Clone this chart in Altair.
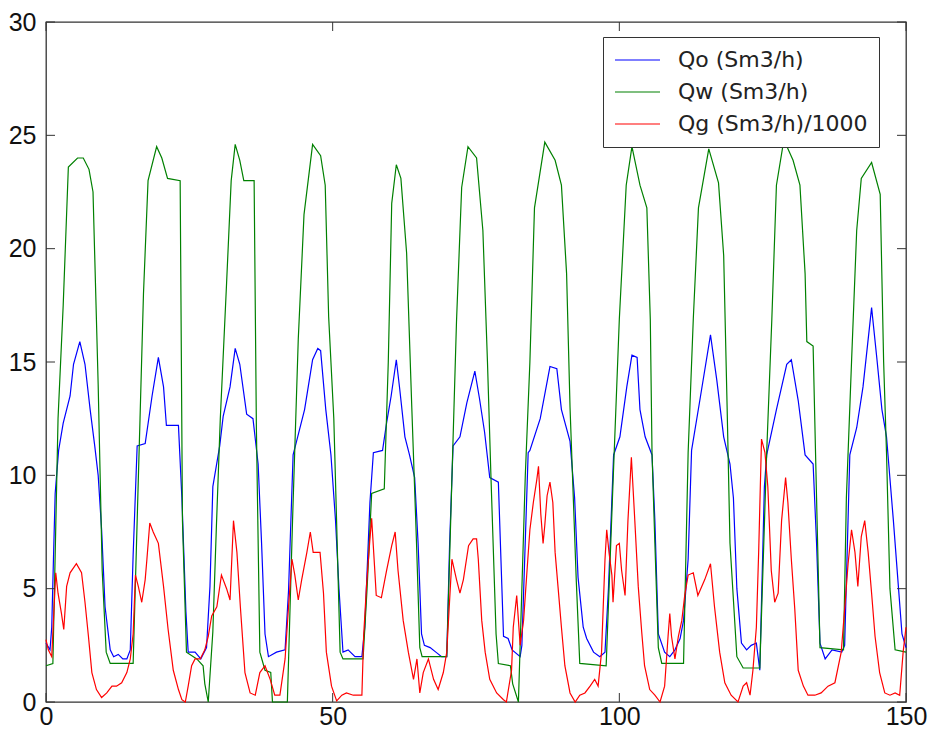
import altair as alt
import pandas as pd

# ---- data ----
labels = ["Qo (Sm3/h)", "Qw (Sm3/h)", "Qg (Sm3/h)/1000"]
colors = ["#0000ff", "#008000", "#ff0000"]
x_ticks = [0, 50, 100, 150]
y_ticks = [0, 5, 10, 15, 20, 25, 30]

qo_t = [0, 0.7, 1.0, 1.3, 1.6, 2.2, 3.0, 4.2, 4.8, 5.9, 6.8, 7.7, 8.5, 9.1, 9.7, 10.3, 11.2, 11.8, 12.6, 13.4,
        14.1, 14.7, 15.2, 15.9, 17.3, 18.5, 19.6, 20.5, 21.0, 23.1, 23.7, 24.4, 24.8, 26.0, 27.0, 28.0, 28.6, 29.1, 30.3, 30.9,
        32.1, 33.0, 33.8, 35.0, 36.1, 37.0, 37.6, 38.2, 38.8, 40.2, 41.7, 42.3, 43.1, 43.7, 45.1, 46.5, 47.4, 47.9, 48.8, 49.7,
        50.5, 51.1, 51.8, 52.7, 53.9, 55.1, 55.6, 56.5, 57.1, 58.7, 59.4, 60.2, 61.1, 61.7, 62.6, 63.4, 64.3, 64.9, 65.5, 66.0,
        67.0, 68.0, 69.0, 69.9, 70.4, 71.0, 72.2, 73.4, 74.8, 75.6, 76.5, 77.4, 78.9, 79.8, 80.6, 81.3, 82.7, 83.0, 84.1, 84.4,
        86.2, 87.9, 89.1, 89.9, 91.4, 92.2, 92.8, 93.7, 94.3, 95.5, 96.6, 97.5, 98.1, 99.0, 100.1, 101.3, 102.2, 103.1, 103.6, 104.5,
        105.7, 106.2, 106.8, 107.9, 108.8, 109.7, 110.6, 111.2, 112.0, 112.6, 114.1, 115.9, 117.0, 118.2, 119.3, 119.9, 120.5, 121.3, 122.2, 123.0,
        123.9, 124.5, 125.3, 125.7, 127.4, 129.2, 130.0, 131.2, 132.4, 133.8, 134.4, 135.0, 135.9, 137.1, 138.8, 139.3, 140.2, 141.4, 142.5, 144.0,
        144.9, 145.8, 146.6, 147.8, 148.7, 149.3, 150.0]
qo = [2.6, 2.3, 3.3, 6.3, 9.2, 11.1, 12.3, 13.5, 14.9, 15.9, 14.9, 12.9, 11.3, 10.0, 7.6, 4.2, 2.3, 2.0, 2.1, 1.9,
      1.9, 2.3, 6.5, 11.3, 11.4, 13.5, 15.2, 13.9, 12.2, 12.2, 9.0, 4.0, 2.2, 2.2, 1.9, 2.4, 5.1, 9.5, 11.3, 12.6,
      13.9, 15.6, 14.9, 12.7, 12.5, 10.5, 7.0, 3.0, 2.0, 2.2, 2.3, 4.9, 10.9, 11.5, 12.9, 15.1, 15.6, 15.5, 12.9, 10.9,
      8.0, 5.0, 2.2, 2.3, 2.0, 2.0, 3.3, 8.8, 11.0, 11.1, 12.3, 13.5, 15.1, 13.8, 11.7, 10.9, 9.9, 7.0, 3.0, 2.5,
      2.4, 2.2, 2.0, 2.0, 7.0, 11.3, 11.7, 13.2, 14.6, 13.4, 11.9, 9.9, 9.7, 2.9, 2.8, 2.3, 2.0, 2.5, 11.0, 11.1,
      12.5, 14.8, 14.7, 12.9, 11.5, 9.0, 5.5, 3.3, 2.8, 2.2, 2.0, 2.2, 5.0, 10.9, 11.7, 13.9, 15.3, 15.2, 12.9, 11.7,
      10.9, 8.0, 3.0, 2.2, 2.0, 2.3, 2.8, 3.6, 6.3, 11.1, 13.4, 16.2, 14.2, 11.7, 10.5, 9.0, 5.0, 2.6, 2.3, 2.5,
      2.6, 1.4, 9.5, 10.9, 12.9, 14.9, 15.1, 13.3, 10.9, 10.5, 7.0, 2.6, 1.9, 2.3, 2.2, 2.5, 10.9, 12.1, 13.9, 17.4,
      15.2, 12.9, 11.7, 8.0, 5.0, 3.0, 2.4]

qw_t = [0, 1.2, 2.1, 3.0, 3.9, 5.5, 6.5, 7.5, 8.2, 9.1, 9.8, 10.5, 11.2, 15.2, 16.4, 17.0, 17.8, 19.3, 20.2, 21.2,
        23.4, 23.8, 24.5, 26.3, 27.4, 27.7, 28.3, 29.1, 29.7, 30.4, 31.5, 32.3, 33.0, 33.8, 34.5, 36.3, 36.7, 37.3, 38.2, 39.2,
        39.5, 42.1, 43.0, 44.0, 45.0, 46.5, 47.9, 48.7, 49.3, 50.2, 51.3, 51.8, 55.3, 56.0, 56.8, 59.0, 59.7, 60.3, 61.1, 61.9,
        62.9, 63.8, 64.6, 65.2, 65.6, 69.9, 70.7, 71.6, 72.5, 73.6, 75.1, 76.2, 77.0, 77.6, 78.5, 78.9, 81.0, 81.4, 82.4, 83.0,
        83.6, 84.4, 85.2, 87.0, 88.8, 89.9, 90.8, 91.4, 92.5, 93.1, 97.7, 98.8, 100.0, 101.2, 102.2, 103.6, 104.8, 105.4, 105.7, 106.2,
        106.8, 107.4, 111.2, 112.0, 112.9, 113.8, 115.6, 117.3, 118.2, 118.8, 119.3, 120.5, 121.6, 124.5, 125.7, 126.6, 127.4, 128.7, 130.3, 131.5,
        132.4, 132.7, 133.8, 134.4, 135.0, 139.1, 139.6, 140.5, 141.4, 142.2, 144.0, 145.5, 146.1, 146.6, 147.2, 148.1, 150.0]
qw = [1.6, 1.7, 12.5, 17.5, 23.6, 24.0, 24.0, 23.5, 22.5, 14.0, 5.8, 2.2, 1.7, 1.7, 12.5, 18.0, 23.0, 24.5, 24.0, 23.1,
      23.0, 8.0, 2.2, 1.9, 1.6, 0.8, 0.0, 3.1, 7.6, 12.5, 18.5, 23.0, 24.6, 23.9, 23.0, 23.0, 12.0, 2.2, 1.4, 1.3,
      0.0, 0.0, 8.0, 16.0, 21.5, 24.6, 24.1, 22.8, 17.0, 12.5, 2.2, 1.9, 1.9, 5.0, 9.2, 9.4, 15.0, 22.0, 23.7, 23.1,
      19.8, 13.0, 7.2, 2.4, 2.0, 2.0, 9.0, 16.8, 22.7, 24.5, 24.0, 20.8, 15.0, 10.0, 3.0, 1.7, 1.6, 0.8, 0.0, 5.0,
      10.0, 15.0, 21.8, 24.7, 23.9, 22.8, 18.9, 13.0, 5.3, 1.7, 1.6, 9.0, 16.9, 22.8, 24.5, 22.8, 21.8, 16.9, 11.0, 7.0,
      2.4, 1.7, 1.7, 11.0, 16.9, 21.8, 24.4, 22.9, 19.7, 13.0, 7.0, 2.0, 1.5, 1.5, 11.0, 16.9, 22.8, 24.8, 23.9, 22.8,
      18.9, 15.9, 15.7, 9.0, 2.4, 2.3, 9.0, 15.0, 20.8, 23.1, 23.8, 22.4, 15.0, 11.0, 5.0, 2.3, 2.2]

qg_t = [0, 0.4, 1.0, 1.3, 1.7, 2.1, 2.7, 3.1, 3.6, 4.2, 5.3, 6.2, 6.8, 7.4, 8.0, 8.8, 9.7, 10.6, 11.5, 12.3,
        13.2, 14.1, 14.7, 15.2, 15.6, 16.1, 16.7, 17.3, 17.6, 18.1, 18.7, 19.6, 20.5, 21.3, 22.2, 23.1, 23.7, 24.3, 24.8, 25.4,
        26.0, 26.9, 27.7, 28.3, 28.9, 29.8, 30.6, 31.5, 32.1, 32.7, 33.3, 33.9, 34.7, 35.6, 36.5, 37.3, 38.2, 39.1, 39.9, 40.8,
        41.7, 42.3, 42.9, 43.4, 44.0, 44.6, 45.5, 46.1, 46.6, 47.8, 48.4, 48.9, 49.8, 50.7, 51.6, 52.4, 53.6, 55.1, 55.4, 55.9,
        56.5, 56.8, 57.3, 57.6, 58.5, 59.4, 60.3, 60.9, 61.4, 62.3, 63.2, 64.1, 64.7, 65.2, 65.8, 66.7, 67.6, 68.4, 69.3, 69.9,
        70.2, 70.8, 71.6, 72.2, 72.8, 73.7, 74.5, 75.1, 75.4, 76.0, 76.6, 77.4, 78.6, 79.8, 80.3, 81.2, 81.5, 82.1, 82.4, 82.7,
        83.3, 83.9, 84.4, 85.0, 85.6, 85.9, 86.3, 86.7, 87.0, 87.4, 87.9, 88.4, 88.8, 89.3, 89.9, 90.5, 91.4, 92.3, 93.1, 94.0,
        94.9, 95.7, 96.3, 96.9, 97.5, 97.8, 98.2, 98.7, 98.9, 99.5, 100.0, 100.4, 101.0, 101.5, 102.1, 102.7, 103.3, 103.9, 104.4, 105.3,
        106.2, 107.1, 107.9, 108.5, 108.8, 109.1, 109.7, 110.3, 110.9, 111.4, 112.0, 112.9, 113.7, 114.9, 115.9, 116.6, 117.5, 118.4, 119.5, 120.7,
        121.6, 122.2, 122.8, 123.3, 123.9, 124.3, 124.8, 125.4, 125.9, 126.5, 127.1, 127.7, 128.3, 129.0, 129.4, 130.0, 130.6, 131.2, 132.1, 132.9,
        134.1, 135.2, 136.4, 137.6, 138.7, 139.3, 139.9, 140.5, 141.1, 141.6, 142.2, 142.8, 143.4, 144.0, 144.6, 145.4, 146.3, 147.2, 148.1, 148.9,
        149.5, 150.0]
qg = [2.75, 2.3, 2.0, 3.6, 5.7, 4.8, 3.9, 3.2, 5.1, 5.7, 6.1, 5.7, 4.4, 2.9, 1.3, 0.55, 0.2, 0.4, 0.7, 0.7,
      0.85, 1.3, 1.9, 3.0, 5.6, 5.1, 4.4, 5.4, 6.3, 7.9, 7.5, 7.0, 5.1, 3.2, 1.4, 0.55, 0.1, 0.0, 0.7, 1.6,
      1.9, 1.9, 2.3, 2.9, 3.8, 4.2, 5.6, 5.0, 4.5, 8.0, 6.6, 4.2, 1.3, 0.4, 0.3, 1.3, 1.6, 1.0, 0.3, 0.3,
      1.9, 4.2, 6.3, 5.6, 4.5, 5.4, 6.6, 7.5, 6.6, 6.6, 4.8, 2.2, 0.7, 0.05, 0.3, 0.4, 0.3, 0.3, 2.9, 5.1,
      7.2, 8.1, 6.0, 4.7, 4.6, 5.8, 6.9, 7.5, 5.8, 3.6, 2.2, 1.0, 1.9, 0.4, 1.3, 1.9, 1.0, 0.55, 1.3, 2.2,
      3.6, 6.3, 5.4, 4.8, 5.4, 6.9, 7.2, 7.2, 6.3, 3.6, 2.2, 1.0, 0.4, 0.1, 0.0, 1.4, 3.3, 4.7, 3.6, 2.5,
      3.6, 5.8, 7.6, 8.8, 9.8, 10.4, 8.3, 7.0, 7.8, 9.1, 9.7, 8.8, 6.6, 5.1, 3.3, 1.6, 0.4, 0.0, 0.3, 0.4,
      0.7, 1.0, 0.7, 2.2, 6.3, 7.6, 6.6, 5.6, 4.4, 6.9, 7.0, 5.8, 4.7, 8.0, 10.8, 8.0, 5.1, 3.1, 1.6, 0.55,
      0.3, 0.0, 0.7, 2.9, 3.9, 2.9, 1.9, 2.9, 3.6, 4.7, 5.6, 5.7, 4.7, 5.4, 6.1, 4.2, 2.2, 0.85, 0.3, 0.0,
      0.7, 0.85, 0.3, 1.4, 3.3, 6.6, 11.6, 11.0, 9.5, 5.8, 4.4, 4.8, 8.0, 9.9, 8.8, 6.3, 4.1, 1.4, 0.7, 0.3,
      0.3, 0.4, 0.7, 0.85, 2.2, 4.1, 6.1, 7.6, 6.6, 5.1, 7.3, 8.0, 6.6, 4.8, 2.9, 1.3, 0.4, 0.3, 0.4, 0.3,
      2.2, 3.3]

frames = []
for name, t, v in zip(labels, [qo_t, qw_t, qg_t], [qo, qw, qg]):
    assert len(t) == len(v), name
    frames.append(pd.DataFrame({"t": t, "v": v, "series": name}))
df = pd.concat(frames, ignore_index=True)

W, H = 860, 680
TICK = 9
FRAME = "#333333"
TICK_FONT = "Liberation Sans Narrow, Liberation Sans, Arial"

xs = alt.Scale(domain=[0, 150], nice=False, zero=False)
ys = alt.Scale(domain=[0, 30], nice=False, zero=False)

x_axis = alt.Axis(values=x_ticks, ticks=False, domain=False, grid=False, title=None,
                  labelFont=TICK_FONT, labelFontSize=25, labelColor="#111111",
                  labelPadding=2, labelFlush=False)
y_axis = alt.Axis(values=y_ticks, ticks=False, domain=False, grid=False, title=None,
                  labelFont=TICK_FONT, labelFontSize=25, labelColor="#111111",
                  labelPadding=10)

legend = alt.Legend(title=None, orient="none", legendX=557, legendY=15,
                    symbolType="stroke", symbolSize=2025, symbolStrokeWidth=1.2,
                    labelFont="DejaVu Sans", labelFontSize=22, labelColor="#222222",
                    labelOffset=17, symbolOffset=0, padding=11, rowPadding=8,
                    clipHeight=24, strokeColor=FRAME, fillColor="white", labelLimit=400)

color = alt.Color("series:N", scale=alt.Scale(domain=labels, range=colors), legend=legend)

layers = []
for name in labels:
    layers.append(
        alt.Chart(df).transform_filter(alt.datum.series == name)
        .mark_line(strokeWidth=1.2)
        .encode(x=alt.X("t:Q", scale=xs, axis=x_axis),
                y=alt.Y("v:Q", scale=ys, axis=y_axis),
                color=color)
    )

xt = pd.DataFrame({"t": x_ticks})
yt = pd.DataFrame({"v": y_ticks})
tick_bottom = alt.Chart(xt).mark_rule(color=FRAME, strokeWidth=1).encode(
    x=alt.X("t:Q", scale=xs, axis=x_axis), y=alt.value(H), y2=alt.value(H - TICK))
tick_top = alt.Chart(xt).mark_rule(color=FRAME, strokeWidth=1).encode(
    x=alt.X("t:Q", scale=xs, axis=x_axis), y=alt.value(0), y2=alt.value(TICK))
tick_left = alt.Chart(yt).mark_rule(color=FRAME, strokeWidth=1).encode(
    y=alt.Y("v:Q", scale=ys, axis=y_axis), x=alt.value(0), x2=alt.value(TICK))
tick_right = alt.Chart(yt).mark_rule(color=FRAME, strokeWidth=1).encode(
    y=alt.Y("v:Q", scale=ys, axis=y_axis), x=alt.value(W - TICK), x2=alt.value(W))

chart = alt.layer(*layers, tick_bottom, tick_top, tick_left, tick_right).properties(
    width=W, height=H,
    padding={"left": 46, "top": 22, "right": 22, "bottom": 29},
    autosize=alt.AutoSizeParams(type="none"),
    background="white",
).configure_view(stroke=FRAME, strokeWidth=1.3)

chart.save("out.html", embed_options={"renderer": "svg", "actions": False})
